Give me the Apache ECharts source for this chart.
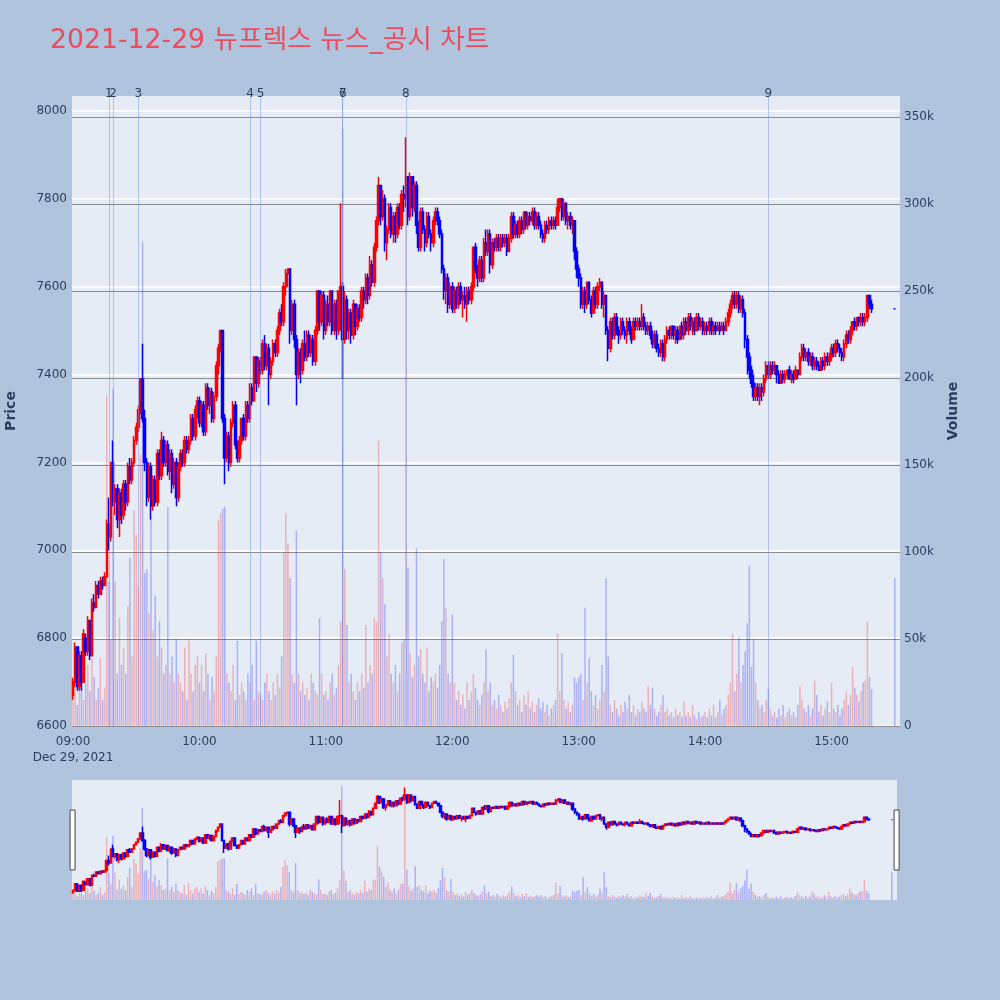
<!DOCTYPE html>
<html>
<head>
<meta charset="utf-8">
<title>뉴프렉스 뉴스_공시 차트</title>
<script src="https://cdn.jsdelivr.net/npm/echarts@6/dist/echarts.min.js"></script>
<style>
  html, body { margin: 0; padding: 0; background: #b0c4de; }
  #main { width: 1000px; height: 1000px; }
</style>
</head>
<body>
<div id="main"></div>
<script>
// 1-minute candles, [open, close, low, high]
var ohlc0900 = [
  [6670,6700,6660,6710],[6700,6780,6690,6790],[6780,6690,6680,6780],[6690,6760,6680,6770],[6760,6700,6680,6770],
  [6700,6810,6700,6820],[6800,6770,6760,6810],[6770,6840,6760,6850],[6840,6760,6750,6840],[6760,6880,6760,6890],
  [6880,6870,6860,6900],[6870,6920,6870,6930],[6920,6900,6890,6930],[6900,6930,6900,6940],[6930,6920,6910,6940],
  [6920,6940,6920,6950],[6940,7060,6940,7070],[7060,7030,7000,7120],[7030,7200,7020,7200],[7200,7110,7100,7250],
  [7110,7140,7080,7150],[7140,7070,7050,7150],[7070,7130,7030,7140],[7130,7080,7060,7140],[7080,7150,7070,7160],
  [7150,7110,7090,7160],[7110,7190,7100,7200],[7190,7160,7150,7210],[7160,7200,7150,7210],[7200,7250,7190,7260],
  [7250,7280,7240,7290],[7280,7320,7270,7330],[7320,7390,7310,7390],[7390,7300,7290,7470],[7300,7200,7180,7320],
  [7200,7120,7100,7210],[7120,7190,7110,7200],[7190,7100,7070,7200],[7100,7160,7090,7170],[7160,7110,7100,7170],
  [7110,7220,7100,7230],[7220,7170,7160,7230],[7170,7250,7160,7270],[7250,7200,7190,7260],[7200,7240,7190,7250],
  [7240,7180,7170,7250],[7180,7220,7160,7230],[7220,7150,7130,7230],[7150,7200,7140,7210],[7200,7120,7100,7210],
  [7120,7190,7110,7200],[7190,7220,7180,7230],[7220,7200,7190,7230],[7200,7250,7190,7260],[7250,7230,7220,7260],
  [7230,7250,7220,7260],[7250,7300,7240,7310],[7300,7260,7250,7310],[7260,7320,7250,7330],[7320,7340,7300,7350]
];
var ohlc1000 = [
  [7340,7290,7280,7350],[7290,7330,7280,7340],[7330,7270,7260,7340],[7270,7370,7260,7380],[7370,7330,7320,7380],
  [7330,7360,7310,7370],[7360,7300,7290,7370],[7300,7350,7290,7360],[7350,7420,7340,7430],[7420,7460,7400,7470],
  [7460,7500,7450,7500],[7500,7300,7290,7500],[7300,7210,7150,7310],[7210,7260,7200,7270],[7260,7200,7180,7270],
  [7200,7290,7190,7300],[7290,7330,7280,7340],[7330,7240,7230,7340],[7240,7210,7200,7250],[7210,7250,7200,7260],
  [7250,7300,7240,7300],[7300,7260,7250,7310],[7260,7330,7250,7340],[7330,7300,7290,7340],[7300,7370,7290,7380],
  [7370,7340,7330,7380],[7340,7440,7340,7440],[7440,7380,7360,7440],[7380,7430,7370,7440],[7430,7410,7400,7440],
  [7410,7470,7400,7480],[7470,7420,7410,7490],[7420,7460,7410,7470],[7460,7400,7330,7470],[7400,7430,7390,7440],
  [7430,7470,7420,7480],[7470,7450,7440,7480],[7450,7500,7440,7510],[7500,7540,7490,7550],[7540,7520,7510,7560],
  [7520,7600,7510,7610],[7600,7630,7580,7640],[7630,7640,7600,7640],[7640,7500,7470,7640],[7500,7560,7490,7570],
  [7560,7480,7460,7570],[7480,7400,7330,7490],[7400,7450,7390,7460],[7450,7410,7380,7460],[7410,7470,7400,7480],
  [7470,7440,7430,7500],[7440,7490,7430,7500],[7490,7450,7440,7500],[7450,7480,7440,7490],[7480,7430,7420,7490],
  [7430,7500,7420,7510],[7500,7590,7490,7590],[7590,7520,7500,7590],[7520,7580,7510,7590],[7580,7500,7480,7590]
];
var ohlc1100 = [
  [7500,7560,7490,7570],[7560,7520,7510,7580],[7520,7590,7510,7590],[7590,7500,7490,7590],[7500,7560,7490,7570],
  [7560,7500,7480,7570],[7500,7590,7490,7590],[7590,7600,7500,7790],[7600,7480,7390,7610],[7480,7570,7470,7590],
  [7570,7500,7480,7580],[7500,7540,7480,7550],[7540,7490,7470,7550],[7490,7560,7480,7570],[7560,7510,7490,7560],
  [7510,7550,7500,7560],[7550,7530,7520,7560],[7530,7590,7520,7600],[7590,7570,7550,7600],[7570,7620,7560,7630],
  [7620,7580,7560,7630],[7580,7650,7570,7670],[7650,7610,7600,7660],[7610,7690,7600,7700],[7690,7750,7680,7760],
  [7750,7830,7740,7850],[7830,7760,7740,7830],[7760,7800,7750,7820],[7800,7700,7680,7810],[7700,7730,7660,7740],
  [7730,7780,7720,7790],[7780,7720,7710,7790],[7720,7760,7700,7770],[7760,7720,7700,7770],[7720,7780,7710,7790],
  [7780,7740,7730,7790],[7740,7810,7730,7820],[7810,7800,7770,7830],[7800,7850,7780,7940],[7850,7760,7740,7850],
  [7760,7850,7750,7860],[7850,7780,7760,7850],[7780,7830,7770,7840],[7830,7740,7720,7840],[7740,7690,7680,7750],
  [7690,7770,7680,7780],[7770,7730,7720,7780],[7730,7700,7680,7740],[7700,7760,7690,7770],[7760,7720,7710,7770],
  [7720,7700,7680,7730],[7700,7750,7690,7760],[7750,7770,7740,7780],[7770,7750,7740,7780],[7750,7720,7710,7760],
  [7720,7640,7630,7730],[7640,7590,7570,7650],[7590,7620,7560,7630],[7620,7560,7540,7630],[7560,7600,7550,7610]
];
var ohlc1200 = [
  [7600,7550,7540,7610],[7550,7590,7540,7600],[7590,7560,7550,7600],[7560,7600,7550,7610],[7600,7570,7560,7610],
  [7570,7580,7530,7590],[7580,7560,7550,7600],[7560,7590,7520,7600],[7590,7570,7560,7600],[7570,7600,7560,7610],
  [7600,7690,7590,7690],[7690,7640,7630,7700],[7640,7620,7600,7650],[7620,7660,7610,7670],[7660,7620,7610,7670],
  [7620,7700,7610,7710],[7700,7680,7670,7730],[7680,7720,7670,7730],[7720,7650,7630,7730],[7650,7700,7640,7710],
  [7700,7690,7680,7710],[7690,7710,7680,7720],[7710,7690,7680,7720],[7690,7710,7680,7720],[7710,7700,7690,7720],
  [7700,7710,7690,7720],[7710,7680,7670,7720],[7680,7710,7680,7720],[7710,7760,7700,7770],[7760,7720,7710,7770],
  [7720,7740,7710,7750],[7740,7720,7710,7750],[7720,7750,7710,7760],[7750,7730,7720,7760],[7730,7770,7720,7770],
  [7770,7740,7730,7770],[7740,7760,7730,7770],[7760,7750,7740,7770],[7750,7770,7740,7780],[7770,7740,7730,7780],
  [7740,7760,7730,7770],[7760,7740,7730,7770],[7740,7720,7710,7750],[7720,7710,7700,7730],[7710,7740,7700,7750],
  [7740,7730,7720,7750],[7730,7750,7720,7760],[7750,7740,7730,7760],[7740,7750,7730,7760],[7750,7740,7730,7760],
  [7740,7780,7740,7800],[7780,7800,7770,7800],[7800,7760,7750,7800],[7760,7790,7750,7800],[7790,7750,7740,7790],
  [7750,7760,7730,7770],[7760,7740,7730,7770],[7740,7750,7720,7760],[7750,7680,7660,7750],[7680,7640,7620,7690]
];
var ohlc1300 = [
  [7640,7620,7600,7650],[7620,7560,7550,7630],[7560,7590,7550,7600],[7590,7560,7540,7600],[7560,7610,7550,7610],
  [7610,7570,7560,7610],[7570,7540,7530,7580],[7540,7590,7540,7600],[7590,7560,7550,7600],[7560,7600,7550,7610],
  [7600,7610,7590,7620],[7610,7560,7550,7610],[7560,7580,7530,7590],[7580,7500,7490,7580],[7500,7460,7430,7510],
  [7460,7520,7450,7530],[7520,7490,7480,7530],[7490,7530,7480,7540],[7530,7500,7490,7540],[7500,7490,7470,7510],
  [7490,7520,7480,7530],[7520,7500,7490,7530],[7500,7490,7480,7510],[7490,7520,7470,7530],[7520,7500,7490,7530],
  [7500,7480,7470,7510],[7480,7520,7480,7530],[7520,7510,7500,7530],[7510,7520,7500,7530],[7520,7510,7500,7530],
  [7510,7530,7500,7560],[7530,7510,7500,7540],[7510,7500,7490,7520],[7500,7510,7490,7520],[7510,7490,7480,7520],
  [7490,7470,7460,7500],[7470,7490,7460,7500],[7490,7460,7450,7500],[7460,7450,7440,7470],[7450,7470,7440,7480],
  [7470,7440,7430,7480],[7440,7480,7430,7490],[7480,7500,7470,7510],[7500,7490,7480,7510],[7490,7510,7480,7510],
  [7510,7490,7480,7510],[7490,7500,7470,7510],[7500,7480,7470,7510],[7480,7510,7480,7510],[7510,7490,7480,7520],
  [7490,7520,7480,7530],[7520,7500,7490,7530],[7500,7530,7490,7540],[7530,7510,7500,7540],[7510,7520,7490,7530],
  [7520,7500,7490,7530],[7500,7530,7500,7540],[7530,7510,7500,7540],[7510,7520,7500,7530],[7520,7500,7490,7530]
];
var ohlc1400 = [
  [7500,7510,7490,7520],[7510,7500,7490,7520],[7500,7520,7490,7530],[7520,7500,7490,7530],[7500,7510,7490,7520],
  [7510,7500,7490,7520],[7500,7510,7500,7520],[7510,7500,7490,7520],[7500,7510,7500,7520],[7510,7500,7490,7520],
  [7500,7520,7500,7530],[7520,7540,7510,7550],[7540,7560,7530,7570],[7560,7580,7550,7590],[7580,7560,7550,7590],
  [7560,7580,7550,7590],[7580,7550,7540,7590],[7550,7570,7540,7580],[7570,7540,7530,7580],[7540,7480,7460,7550],
  [7480,7440,7400,7490],[7440,7410,7390,7450],[7410,7380,7370,7420],[7380,7350,7340,7400],[7350,7370,7340,7380],
  [7370,7350,7340,7380],[7350,7370,7330,7380],[7370,7360,7340,7380],[7360,7390,7350,7400],[7390,7420,7380,7430],
  [7420,7400,7390,7430],[7400,7420,7390,7430],[7420,7410,7400,7430],[7410,7420,7400,7430],[7420,7400,7380,7420],
  [7400,7380,7380,7410],[7380,7400,7380,7410],[7400,7390,7380,7410],[7390,7400,7380,7410],[7400,7410,7390,7410],
  [7410,7390,7390,7420],[7390,7400,7380,7410],[7400,7390,7380,7410],[7390,7410,7390,7420],[7410,7400,7390,7410],
  [7400,7440,7400,7450],[7440,7460,7430,7470],[7460,7440,7430,7470],[7440,7450,7430,7460],[7450,7430,7420,7460],
  [7430,7440,7420,7450],[7440,7420,7410,7450],[7420,7430,7410,7440],[7430,7420,7410,7440],[7420,7410,7410,7430],
  [7410,7430,7410,7440],[7430,7420,7410,7440],[7420,7440,7410,7450],[7440,7430,7420,7450],[7430,7440,7420,7450]
];
var ohlc1500 = [
  [7440,7460,7430,7470],[7460,7450,7440,7470],[7450,7470,7440,7480],[7470,7460,7450,7480],[7460,7450,7440,7470],
  [7450,7440,7430,7460],[7440,7470,7430,7480],[7470,7490,7460,7500],[7490,7480,7470,7500],[7480,7500,7470,7510],
  [7500,7520,7490,7520],[7520,7510,7500,7530],[7510,7530,7500,7530],[7530,7520,7510,7530],[7520,7530,7510,7540],
  [7530,7520,7510,7540],[7520,7530,7510,7540],[7530,7580,7520,7580],[7580,7560,7550,7580],[7560,7550,7540,7570]
];
// 15:30 closing auction
var closingAuction = [7550,7550,7550,7550];
var closingTime = '15:30';

// volume per minute, thousand shares
var vol0900 = [18,34,12,41,20,15,25,35,20,39, 28,15,22,39,15,22,190,83,50,194, 83,30,62,35,45,30,69,97,40,124,
  110,80,156,278,88,90,65,120,55,75, 40,60,45,30,35,126,30,40,25,50, 30,25,20,45,15,50,30,20,35,40];
var vol1000 = [25,35,20,42,30,15,28,20,40,118, 122,125,126,30,25,20,35,15,49,18, 25,20,15,30,25,35,15,49,20,18,
  15,25,30,20,15,25,18,30,22,40, 100,122,105,85,30,25,112,30,20,25, 18,22,15,30,25,20,18,62,30,18];
var vol1100 = [20,15,25,30,18,22,35,60,343,90, 58,25,30,20,15,25,20,30,22,58, 25,35,30,62,60,164,100,85,70,40,
  53,30,25,35,20,30,48,50,338,91, 42,28,35,102,40,44,30,25,45,20, 28,25,30,22,35,60,96,68,30,25];
var vol1200 = [64,25,15,20,12,18,10,25,15,20, 30,22,15,12,18,25,44,20,25,12, 15,10,18,12,8,14,10,16,25,41,
  20,12,15,8,18,12,20,10,14,8, 12,16,10,14,8,12,6,10,12,15, 53,20,42,15,10,14,8,12,28,25];
var vol1300 = [28,30,15,68,25,39,20,12,18,10, 15,35,20,85,40,12,8,15,10,6, 12,8,14,10,18,8,12,6,10,8,
  14,10,8,23,12,22,10,6,8,12, 18,8,10,6,8,5,10,6,8,5, 14,6,8,5,12,6,4,8,5,6];
var vol1400 = [8,5,10,6,12,5,8,15,6,10, 12,18,25,53,20,30,51,25,35,43, 59,92,34,50,25,15,10,12,8,15,
  21,10,6,8,5,10,6,12,5,8, 10,6,8,5,12,23,15,10,8,12, 6,10,26,18,8,12,6,10,14,8];
var vol1500 = [25,10,8,12,6,10,15,20,12,18, 34,22,18,14,20,25,26,60,28,21];
var volClosing = 85;

var xTickLabels = ['09:00','10:00','11:00','12:00','13:00','14:00','15:00'];
var dateLabel = 'Dec 29, 2021';
var priceTicks = [6600,6800,7000,7200,7400,7600,7800,8000];
var volumeTicks = [0,50,100,150,200,250,300,350];

// news / disclosure times
var newsTimes = ['09:17','09:19','09:31','10:24','10:29','11:08','11:08','11:38','14:30'];
var newsLabels = ['1','2','3','4','5','6','7','8','9'];

var UP = '#ff0000', DOWN = '#0000ff';
var FONT = '"DejaVu Sans", "Noto Sans CJK KR", sans-serif';
var TXT = '#2a3f5f';

function pad(n) { return (n < 10 ? '0' : '') + n; }
var categories = [];
for (var i = 0; i < 393; i++) {
  var t = 9 * 60 + i;
  categories.push(pad(Math.floor(t / 60)) + ':' + pad(t % 60));
}

var candles = [].concat(ohlc0900, ohlc1000, ohlc1100, ohlc1200, ohlc1300, ohlc1400, ohlc1500);
var volumes = [].concat(vol0900, vol1000, vol1100, vol1200, vol1300, vol1400, vol1500);

var candleData = [], volumeData = [];
categories.forEach(function (t, i) {
  if (i < candles.length) {
    candleData.push(candles[i]);
    volumeData.push({
      value: volumes[i],
      itemStyle: { color: candles[i][1] > candles[i][0] ? 'rgba(255,0,0,0.25)' : 'rgba(0,0,255,0.25)' }
    });
  } else if (t === closingTime) {
    candleData.push({ value: closingAuction, itemStyle: { color: DOWN, borderColor: DOWN, color0: DOWN, borderColor0: DOWN, borderColorDoji: DOWN } });
    volumeData.push({ value: volClosing, itemStyle: { color: 'rgba(0,0,255,0.25)' } });
  } else {
    candleData.push('-');
    volumeData.push('-');
  }
});

var candleStyle = { color: UP, color0: DOWN, borderColor: UP, borderColor0: DOWN, borderWidth: 1.5 };

var myChart = echarts.init(document.getElementById('main'));
myChart.setOption({
  animation: false,
  backgroundColor: '#b0c4de',
  textStyle: { fontFamily: FONT },
  title: {
    text: '2021-12-29 뉴프렉스 뉴스_공시 차트',
    left: 45, top: 23,
    textStyle: { color: '#ec4d5e', fontSize: 26.7, fontWeight: 'normal', fontFamily: FONT }
  },
  grid: [
    { left: 72, right: 100, top: 96, bottom: 274, show: true, backgroundColor: '#e5ecf6', borderWidth: 0, outerBoundsMode: 'none' },
    { left: 72, right: 103, top: 780, height: 120, show: true, backgroundColor: '#e5ecf6', borderWidth: 0, outerBoundsMode: 'none' }
  ],
  xAxis: [
    {
      type: 'category', data: categories, gridIndex: 0,
      axisLine: { show: false }, axisTick: { show: false }, splitLine: { show: false },
      axisLabel: {
        color: TXT, fontSize: 12, margin: 8, lineHeight: 16,
        interval: function (idx, val) { return xTickLabels.indexOf(val) >= 0; },
        formatter: function (val) { return val === xTickLabels[0] ? val + '\n' + dateLabel : val; }
      }
    },
    { type: 'category', data: categories, gridIndex: 1, show: false }
  ],
  yAxis: [
    {
      type: 'value', gridIndex: 0, min: 6600, max: 8034, interval: 200,
      name: 'Price', nameLocation: 'middle', nameGap: 54,
      nameTextStyle: { color: TXT, fontSize: 14, fontWeight: 'bold' },
      axisLine: { show: false }, axisTick: { show: false, customValues: priceTicks },
      axisLabel: { color: TXT, fontSize: 12, margin: 5, customValues: priceTicks,
        formatter: function (v) { return String(v); } },
      splitLine: { lineStyle: { color: '#ffffff', width: 1.5 } }
    },
    {
      type: 'value', gridIndex: 0, position: 'right', min: 0, max: 362, interval: 50,
      name: 'Volume', nameLocation: 'middle', nameGap: 46,
      nameTextStyle: { color: TXT, fontSize: 14, fontWeight: 'bold' },
      axisLine: { show: false }, axisTick: { show: false, customValues: volumeTicks },
      axisLabel: { color: TXT, fontSize: 12, margin: 4, customValues: volumeTicks,
        formatter: function (v) { return v === 0 ? '0' : v + 'k'; } },
      splitLine: { lineStyle: { color: '#8c8c8c', width: 1 } }
    },
    { type: 'value', gridIndex: 1, min: 6584, max: 8030, show: false, splitLine: { show: false } },
    { type: 'value', gridIndex: 1, min: 0, max: 362, show: false, splitLine: { show: false } }
  ],
  dataZoom: [{
    type: 'slider', xAxisIndex: 0, start: 0, end: 100,
    left: 71, right: 103, top: 780, height: 120,
    showDataShadow: false, showDetail: false, brushSelect: false,
    backgroundColor: 'rgba(0,0,0,0)', fillerColor: 'rgba(0,0,0,0)', borderColor: 'rgba(0,0,0,0)',
    handleIcon: 'path://M0,0H1V12H0Z', handleSize: '50%',
    handleStyle: { color: '#ffffff', borderColor: '#444444', borderWidth: 1 },
    moveHandleSize: 0, z: 10
  }],
  series: [
    {
      name: 'Volume', type: 'bar', xAxisIndex: 0, yAxisIndex: 1,
      data: volumeData, barWidth: 1.5, silent: true,
      markLine: {
        silent: true, symbol: 'none',
        lineStyle: { color: 'rgba(110,140,240,0.45)', width: 1, type: 'solid' },
        label: { position: 'end', distance: -4, color: TXT, fontSize: 12 },
        data: newsTimes.map(function (t, i) {
          return { xAxis: t, label: { formatter: newsLabels[i] } };
        })
      }
    },
    {
      name: 'Price', type: 'candlestick', xAxisIndex: 0, yAxisIndex: 0,
      data: candleData, barWidth: 2, itemStyle: candleStyle, z: 3
    },
    {
      type: 'bar', xAxisIndex: 1, yAxisIndex: 3, data: volumeData, barWidth: 1.5, silent: true
    },
    {
      type: 'candlestick', xAxisIndex: 1, yAxisIndex: 2, data: candleData,
      barWidth: 2, itemStyle: candleStyle, z: 3, silent: true
    }
  ]
});
</script>
</body>
</html>
